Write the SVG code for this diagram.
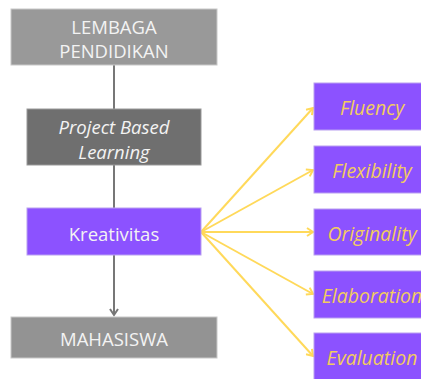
<svg xmlns="http://www.w3.org/2000/svg" width="421" height="379" viewBox="0 0 421 379">
<defs>
<style>
.t{font-family:"Open Sans","Liberation Sans",sans-serif;font-size:18.5px;text-anchor:middle;dominant-baseline:central}
.w{fill:#f3f3f3}
.y{fill:#f2cc5e;font-style:italic;font-size:19.5px}
.p{fill:#8c52ff;stroke:#b9a0f0;stroke-width:1}
.ye{stroke:#ffd95a;stroke-width:2;fill:none;marker-end:url(#ay)}
</style>
<marker id="ay" markerWidth="10" markerHeight="10" refX="7" refY="5" orient="auto" markerUnits="userSpaceOnUse">
<path d="M1,1 L7,5 L1,9" fill="none" stroke="#ffd95a" stroke-width="2"/>
</marker>
<marker id="ag" markerWidth="10" markerHeight="10" refX="7" refY="5" orient="auto" markerUnits="userSpaceOnUse">
<path d="M1,1 L7,5 L1,9" fill="none" stroke="#777" stroke-width="2"/>
</marker>
</defs>
<rect width="421" height="379" fill="#fff"/>
<g id="connectors">
<line x1="114" y1="65" x2="114" y2="109" stroke="#777" stroke-width="2"/>
<line x1="114" y1="165" x2="114" y2="208" stroke="#777" stroke-width="2"/>
<line x1="114" y1="255" x2="114" y2="315" stroke="#777" stroke-width="2" marker-end="url(#ag)"/>
<line class="ye" x1="201" y1="232" x2="313" y2="108"/>
<line class="ye" x1="201" y1="232" x2="313" y2="170"/>
<line class="ye" x1="201" y1="232" x2="313" y2="232"/>
<line class="ye" x1="201" y1="232" x2="313" y2="294"/>
<line class="ye" x1="201" y1="232" x2="313" y2="356"/>
</g>
<g id="lembaga">
<rect x="11" y="9" width="206" height="56" fill="#999" stroke="#c8c8c8" stroke-width="1"/>
<text class="t w" x="114" y="26">LEMBAGA</text>
<text class="t w" x="114" y="50">PENDIDIKAN</text>
</g>
<g id="pbl">
<rect x="27" y="109" width="174" height="56" fill="#6f6f6f" stroke="#999" stroke-width="1"/>
<text class="t w" x="114" y="126" font-style="italic">Project Based</text>
<text class="t w" x="114" y="151" font-style="italic">Learning</text>
</g>
<g id="kreativitas">
<rect class="p" x="27" y="208" width="174" height="47"/>
<text class="t w" x="114" y="233">Kreativitas</text>
</g>
<g id="mahasiswa">
<rect x="11" y="317" width="206" height="41" fill="#939393" stroke="#c8c8c8" stroke-width="1"/>
<text class="t w" x="114" y="338">MAHASISWA</text>
</g>
<g id="fluency">
<rect class="p" x="314" y="83" width="120" height="47"/>
<text class="t y" x="372" y="107">Fluency</text>
</g>
<g id="flexibility">
<rect class="p" x="314" y="146" width="120" height="47"/>
<text class="t y" x="372" y="170">Flexibility</text>
</g>
<g id="originality">
<rect class="p" x="314" y="209" width="120" height="46"/>
<text class="t y" x="372" y="233">Originality</text>
</g>
<g id="elaboration">
<rect class="p" x="314" y="271" width="120" height="47"/>
<text class="t y" x="372" y="295">Elaboration</text>
</g>
<g id="evaluation">
<rect class="p" x="314" y="333" width="120" height="47"/>
<text class="t y" x="372" y="357">Evaluation</text>
</g>
</svg>
